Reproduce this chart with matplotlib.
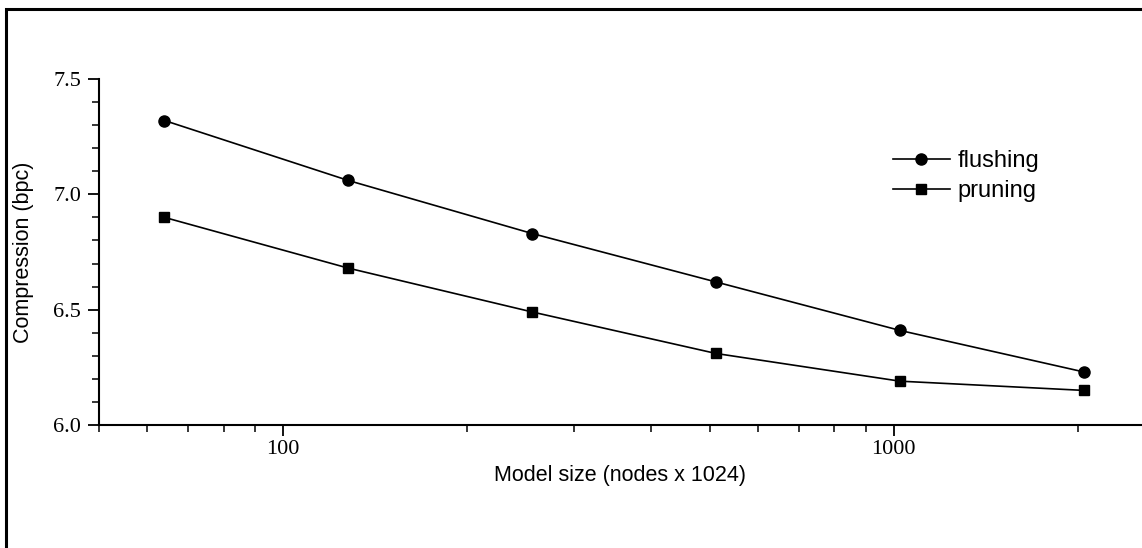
import matplotlib
matplotlib.use("Agg")
import matplotlib.pyplot as plt
from matplotlib.ticker import FixedLocator, FixedFormatter, MultipleLocator, LogLocator, NullFormatter
from matplotlib.patches import Rectangle

sizes = [64, 128, 256, 512, 1024, 2048]
flushing = [7.32, 7.06, 6.83, 6.62, 6.41, 6.23]
pruning = [6.90, 6.68, 6.49, 6.31, 6.19, 6.15]
xtick_vals = [100, 1000]
xtick_labels = ["100", "1000"]
ytick_vals = [6.0, 6.5, 7.0, 7.5]
ytick_labels = ["6.0", "6.5", "7.0", "7.5"]

W, H = 1142, 548
fig = plt.figure(figsize=(W / 100, H / 100), dpi=100)
fig.patch.set_facecolor("white")

# outer frame (clipped on right/bottom)
fig.add_artist(Rectangle((6 / W, -0.1), 1.2, 1 - 9 / H + 0.1, transform=fig.transFigure,
                         fill=False, edgecolor="black", linewidth=2.2, clip_on=False))

left, right, top, bottom = 99, 1142, 79, 425
ax = fig.add_axes([left / W, 1 - bottom / H, (right - left) / W, (bottom - top) / H])

ax.plot(sizes, flushing, color="black", linewidth=1.2, marker="o", markersize=8, label="flushing")
ax.plot(sizes, pruning, color="black", linewidth=1.2, marker="s", markersize=7.5, label="pruning")

ax.set_xscale("log")
ax.set_xlim(50, 2550)
ax.set_ylim(6.0, 7.5)

ax.xaxis.set_major_locator(FixedLocator(xtick_vals))
ax.xaxis.set_major_formatter(FixedFormatter(xtick_labels))
ax.xaxis.set_minor_locator(LogLocator(base=10, subs=[2, 3, 4, 5, 6, 7, 8, 9]))
ax.xaxis.set_minor_formatter(NullFormatter())

ax.yaxis.set_major_locator(FixedLocator(ytick_vals))
ax.yaxis.set_major_formatter(FixedFormatter(ytick_labels))
ax.yaxis.set_minor_locator(MultipleLocator(0.1))

for s in ["top", "right"]:
    ax.spines[s].set_visible(False)
for s in ["left", "bottom"]:
    ax.spines[s].set_linewidth(1.5)

ax.tick_params(axis="both", which="major", direction="out", length=8, width=1.3,
               labelsize=16, pad=5)
ax.tick_params(axis="x", which="major", pad=3)
ax.tick_params(axis="both", which="minor", direction="out", length=5, width=1.1)
for lab in ax.get_xticklabels() + ax.get_yticklabels():
    lab.set_fontfamily("Liberation Serif")

ax.set_xlabel("Model size (nodes x 1024)", fontfamily="Liberation Sans", fontsize=15.5, labelpad=4)
ax.set_ylabel("Compression (bpc)", fontfamily="Liberation Sans", fontsize=15.5, labelpad=14)

leg = fig.legend(loc="upper left", bbox_to_anchor=(893 / W, 1 - 150 / H), frameon=False,
                 prop={"family": "Liberation Sans", "size": 17}, handlelength=2.4,
                 handletextpad=0.35, labelspacing=0.33, borderpad=0, borderaxespad=0,
                 markerscale=1.0)

fig.savefig("out.png", dpi=100)
